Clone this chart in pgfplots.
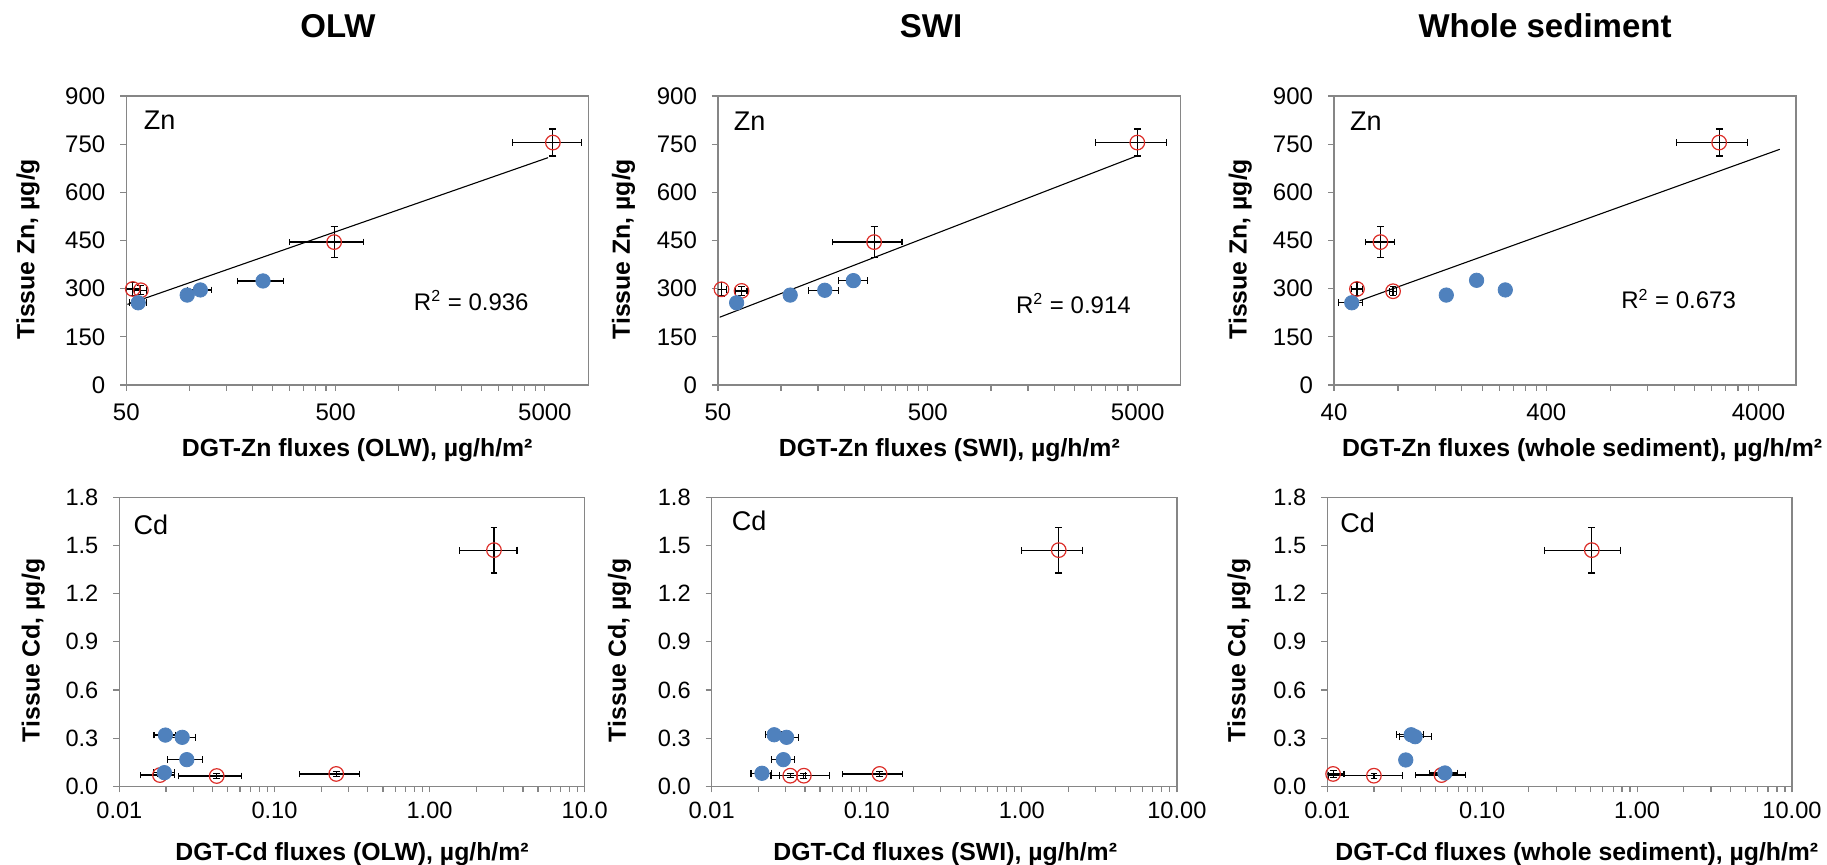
\documentclass[border=0pt]{standalone}
\usepackage{fontspec}
\setmainfont{Liberation Sans}
\usepackage{pgfplots}
\pgfplotsset{compat=1.18}
\usepackage{pgfplotstable}

\definecolor{ptblue}{RGB}{79,129,189}
\definecolor{ptred}{RGB}{220,45,40}
\definecolor{axgray}{RGB}{134,134,134}

% columns: x y, then x error minus/plus, y error minus/plus
\pgfplotstableread{
x y xm xp ym yp
5460 755 1965 2005 42 42
492 445 192 185 48 48
53.7 299 3.5 4 21 21
58.7 295 4 4 14 14
}\znolwred
\pgfplotstableread{
x y xm xp ym yp
57 256 5.3 5.5 0 0
97.7 280 0 0 0 0
112.9 296 15 15 0 0
225 324 55 58 0 0
}\znolwblue
\pgfplotstableread{
x y xm xp ym yp
4980 755 1825 1900 42 42
277.5 445 101.5 99.5 48 48
52 298 3 3 21 21
64.8 293 4 4 14 14
}\znswired
\pgfplotstableread{
x y xm xp ym yp
61.4 256 0 0 0 0
110.5 280 0 0 0 0
161.5 295 26 26.5 0 0
221 325 34 37 0 0
}\znswiblue
\pgfplotstableread{
x y xm xp ym yp
2608 755 971 949 42 42
66.2 445 9.9 11 48 48
51.3 299 3 3 21 21
75.9 292 3 3 14 14
}\znwsred
\pgfplotstableread{
x y xm xp ym yp
48.5 256 6.4 5.9 0 0
135.2 280 0 0 0 0
187.8 326 8 8 0 0
256.4 296 0 0 0 0
}\znwsblue
\pgfplotstableread{
x y xm xp ym yp
2.60 1.471 1.04 1.06 0.143 0.143
0.250 0.077 0.105 0.105 0.015 0.015
0.0424 0.064 0.0183 0.0186 0.015 0.015
0.01826 0.070 0.0045 0.0045 0.01 0.01
}\cdolwred
\pgfplotstableread{
x y xm xp ym yp
0.0198 0.319 0.0031 0.0031 0 0
0.0254 0.305 0.0054 0.0054 0 0
0.0272 0.166 0.0068 0.007 0 0
0.0195 0.085 0.003 0.0032 0 0
}\cdolwblue
\pgfplotstableread{
x y xm xp ym yp
1.73 1.471 0.74 0.74 0.143 0.143
0.121 0.077 0.051 0.049 0.015 0.015
0.0393 0.066 0.012 0.018 0.015 0.015
0.0321 0.066 0.008 0.008 0.012 0.012
}\cdswired
\pgfplotstableread{
x y xm xp ym yp
0.0253 0.321 0.003 0.003 0 0
0.0304 0.305 0.0058 0.0058 0 0
0.0290 0.166 0.0047 0.0054 0 0
0.0211 0.081 0.0032 0.0031 0 0
}\cdswiblue
\pgfplotstableread{
x y xm xp ym yp
0.510 1.471 0.259 0.267 0.143 0.143
0.0109 0.077 0.0019 0.0019 0.02 0.02
0.020 0.066 0.0098 0.0104 0.015 0.015
0.0546 0.070 0.0175 0.0237 0.01 0.01
}\cdwsred
\pgfplotstableread{
x y xm xp ym yp
0.0348 0.321 0.0068 0.007 0 0
0.0369 0.309 0.0078 0.01 0 0
0.0321 0.164 0 0 0 0
0.0575 0.083 0.0117 0.0117 0 0
}\cdwsblue

\pgfplotsset{
  every axis/.append style={
    scale only axis, height=144.5pt,
    axis line style={axgray, line width=0.6pt},
    tick style={axgray, line width=0.6pt},
    tick align=outside, major tick length=3pt,
    xtick pos=left, ytick pos=left,
    yticklabel style={xshift=-4pt},
    error bars/error bar style={black, line width=0.6pt},
    error bars/error mark options={rotate=90, black, mark size=1.7pt, line width=0.6pt},
  },
  table/errtab/.style={x=x, y=y, x error minus=xm, x error plus=xp,
    y error minus=ym, y error plus=yp},
  redser/.style={only marks, mark=o, mark size=3.65pt,
    mark options={draw=ptred, line width=0.6pt},
    error bars/x dir=both, error bars/x explicit,
    error bars/y dir=both, error bars/y explicit},
  blueser/.style={only marks, mark=*, mark size=3.6pt,
    mark options={draw=ptblue, fill=ptblue},
    error bars/x dir=both, error bars/x explicit,
    error bars/y dir=both, error bars/y explicit},
  trend/.style={black, line width=0.55pt, no marks},
}
\newcommand{\ptag}[3]{\node[anchor=north west, inner sep=0pt, xshift=#2pt, yshift=-#3pt,
  font=\fontsize{13.5}{15}\selectfont] at (rel axis cs:0,1) {#1};}
\newcommand{\rsq}[3]{\node[font=\fontsize{12}{14}\selectfont] at (rel axis cs:#1,#2) {R\textsuperscript{2} = #3};}

\begin{document}
\begin{tikzpicture}
\path[use as bounding box] (0,0) rectangle (913.5pt,-432.5pt);

\node[font=\fontsize{16.5}{18}\selectfont\bfseries] at (169pt,-13pt) {OLW};
\node[font=\fontsize{16.5}{18}\selectfont\bfseries] at (465.5pt,-13pt) {SWI};
\node[font=\fontsize{16.5}{18}\selectfont\bfseries] at (772.5pt,-13pt) {Whole sediment};

% Zn, OLW
\begin{axis}[at={(63.15pt,-48pt)}, anchor=north west, width=230.9pt,
  xmode=log, xmin=50, xmax=8045, xtick={50,500,5000}, xticklabels={50,500,5000},
  ymin=0, ymax=900, ytick={0,150,300,450,600,750,900},
  yticklabels={0,150,300,450,600,750,900},
  ticklabel style={font=\fontsize{12}{14}\selectfont},
  xticklabel style={yshift=-3pt},
  xlabel={DGT-Zn fluxes (OLW), µg/h/m²},
  ylabel={Tissue Zn, µg/g},
  xlabel style={at={(axis description cs:0.5,-0.225)}, anchor=center,
    font=\fontsize{12.4}{14}\selectfont\bfseries},
  ylabel style={at={(axis description cs:-0.213,0.47)}, anchor=center,
    font=\fontsize{12.4}{14}\selectfont\bfseries}]
\addplot[trend] coordinates {(50.6,251) (5178,708)};
\addplot[redser] table[errtab] {\znolwred};
\addplot[blueser] table[errtab] {\znolwblue};
\ptag{Zn}{8.6}{7.3}
\rsq{0.747}{0.292}{0.936}
\end{axis}

% Zn, SWI
\begin{axis}[at={(358.95pt,-48pt)}, anchor=north west, width=231.45pt,
  xmode=log, xmin=50, xmax=8025, xtick={50,500,5000}, xticklabels={50,500,5000},
  ymin=0, ymax=900, ytick={0,150,300,450,600,750,900},
  yticklabels={0,150,300,450,600,750,900},
  ticklabel style={font=\fontsize{12}{14}\selectfont},
  xticklabel style={yshift=-3pt},
  xlabel={DGT-Zn fluxes (SWI), µg/h/m²},
  ylabel={Tissue Zn, µg/g},
  xlabel style={at={(axis description cs:0.5,-0.225)}, anchor=center,
    font=\fontsize{12.4}{14}\selectfont\bfseries},
  ylabel style={at={(axis description cs:-0.204,0.47)}, anchor=center,
    font=\fontsize{12.4}{14}\selectfont\bfseries}]
\addplot[trend] coordinates {(51,211) (4980,714)};
\addplot[redser] table[errtab] {\znswired};
\addplot[blueser] table[errtab] {\znswiblue};
\ptag{Zn}{7.8}{7.8}
\rsq{0.768}{0.283}{0.914}
\end{axis}

% Zn, whole sediment
\begin{axis}[at={(667pt,-48pt)}, anchor=north west, width=230.95pt,
  xmode=log, xmin=40, xmax=5997, xtick={40,400,4000}, xticklabels={40,400,4000},
  ymin=0, ymax=900, ytick={0,150,300,450,600,750,900},
  yticklabels={0,150,300,450,600,750,900},
  ticklabel style={font=\fontsize{12}{14}\selectfont},
  xticklabel style={yshift=-3pt},
  xlabel={DGT-Zn fluxes (whole sediment), µg/h/m²},
  ylabel={Tissue Zn, µg/g},
  xlabel style={at={(axis description cs:0.537,-0.225)}, anchor=center,
    font=\fontsize{12.4}{14}\selectfont\bfseries},
  ylabel style={at={(axis description cs:-0.203,0.47)}, anchor=center,
    font=\fontsize{12.4}{14}\selectfont\bfseries}]
\addplot[trend] coordinates {(52.8,262.5) (5033,734)};
\addplot[redser] table[errtab] {\znwsred};
\addplot[blueser] table[errtab] {\znwsblue};
\ptag{Zn}{7.9}{7.8}
\rsq{0.746}{0.297}{0.673}
\end{axis}

% Cd, OLW
\begin{axis}[at={(59.7pt,-248.65pt)}, anchor=north west, width=232.65pt,
  xmode=log, xmin=0.01, xmax=10, xtick={0.01,0.1,1,10},
  xticklabels={0.01,0.10,1.00,10.0},
  ymin=0, ymax=1.8, ytick={0,0.3,0.6,0.9,1.2,1.5,1.8},
  yticklabels={0.0,0.3,0.6,0.9,1.2,1.5,1.8},
  ticklabel style={font=\fontsize{11.8}{14}\selectfont},
  xticklabel style={yshift=-1.5pt},
  xlabel={DGT-Cd fluxes (OLW), µg/h/m²},
  ylabel={Tissue Cd, µg/g},
  xlabel style={at={(axis description cs:0.5,-0.235)}, anchor=center,
    font=\fontsize{12.4}{14}\selectfont\bfseries},
  ylabel style={at={(axis description cs:-0.185,0.47)}, anchor=center,
    font=\fontsize{12.4}{14}\selectfont\bfseries}]
\addplot[redser] table[errtab] {\cdolwred};
\addplot[blueser] table[errtab] {\cdolwblue};
\ptag{Cd}{6.9}{8.8}
\end{axis}

% Cd, SWI
\begin{axis}[at={(355.85pt,-248.65pt)}, anchor=north west, width=232.6pt,
  xmode=log, xmin=0.01, xmax=10, xtick={0.01,0.1,1,10},
  xticklabels={0.01,0.10,1.00,10.00},
  ymin=0, ymax=1.8, ytick={0,0.3,0.6,0.9,1.2,1.5,1.8},
  yticklabels={0.0,0.3,0.6,0.9,1.2,1.5,1.8},
  ticklabel style={font=\fontsize{11.8}{14}\selectfont},
  xticklabel style={yshift=-1.5pt},
  xlabel={DGT-Cd fluxes (SWI), µg/h/m²},
  ylabel={Tissue Cd, µg/g},
  xlabel style={at={(axis description cs:0.502,-0.235)}, anchor=center,
    font=\fontsize{12.4}{14}\selectfont\bfseries},
  ylabel style={at={(axis description cs:-0.198,0.47)}, anchor=center,
    font=\fontsize{12.4}{14}\selectfont\bfseries}]
\addplot[redser] table[errtab] {\cdswired};
\addplot[blueser] table[errtab] {\cdswiblue};
\ptag{Cd}{9.9}{6.4}
\end{axis}

% Cd, whole sediment
\begin{axis}[at={(663.65pt,-248.65pt)}, anchor=north west, width=232.35pt,
  xmode=log, xmin=0.01, xmax=10, xtick={0.01,0.1,1,10},
  xticklabels={0.01,0.10,1.00,10.00},
  ymin=0, ymax=1.8, ytick={0,0.3,0.6,0.9,1.2,1.5,1.8},
  yticklabels={0.0,0.3,0.6,0.9,1.2,1.5,1.8},
  ticklabel style={font=\fontsize{11.8}{14}\selectfont},
  xticklabel style={yshift=-1.5pt},
  xlabel={DGT-Cd fluxes (whole sediment), µg/h/m²},
  ylabel={Tissue Cd, µg/g},
  xlabel style={at={(axis description cs:0.537,-0.235)}, anchor=center,
    font=\fontsize{12.4}{14}\selectfont\bfseries},
  ylabel style={at={(axis description cs:-0.19,0.47)}, anchor=center,
    font=\fontsize{12.4}{14}\selectfont\bfseries}]
\addplot[redser] table[errtab] {\cdwsred};
\addplot[blueser] table[errtab] {\cdwsblue};
\ptag{Cd}{6.3}{7.8}
\end{axis}
\end{tikzpicture}
\end{document}
